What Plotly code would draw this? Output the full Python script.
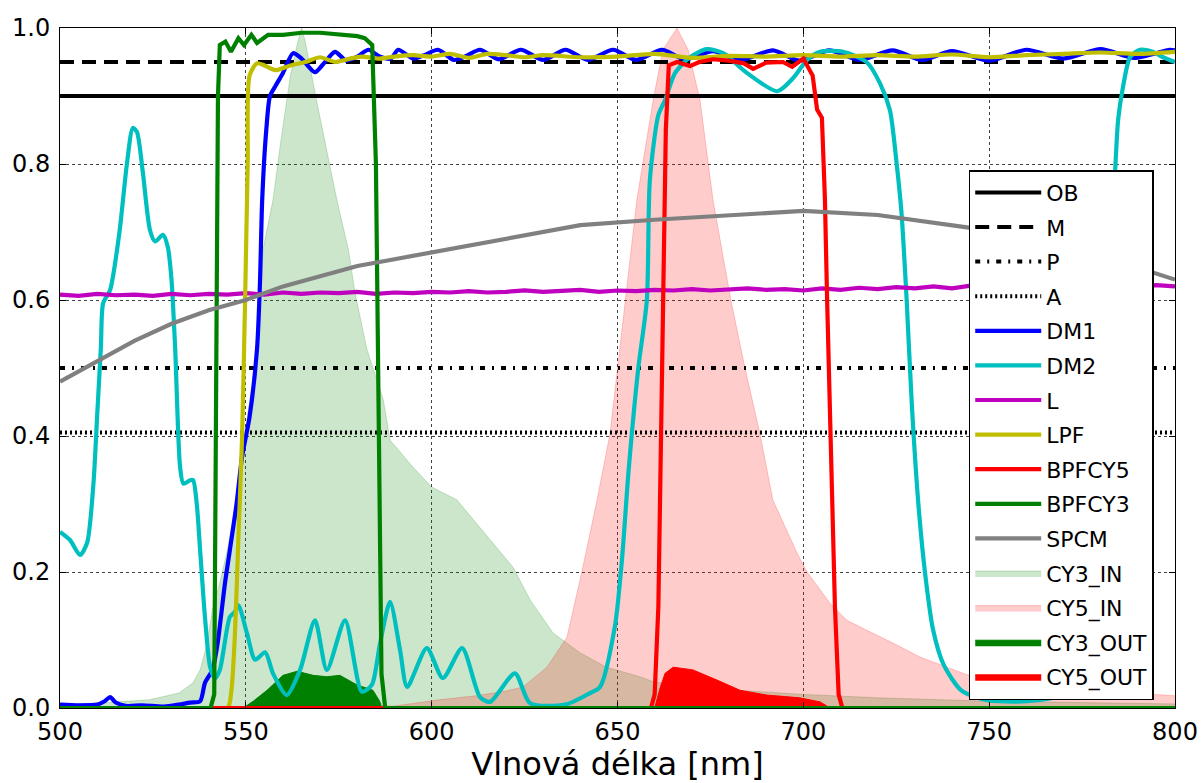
import plotly.graph_objects as go

# ---------------- data ----------------
# constant reference levels
OB_LEVEL = 0.90
M_LEVEL = 0.95
P_LEVEL = 0.50
A_LEVEL = 0.405
X_RANGE = [500, 800]

# dichroic mirror 1
dm1_nm = [500, 505, 510, 512, 513.5, 515, 518, 522, 528, 532, 535, 537.7, 539, 541, 542.4, 544.4,
          545.7, 547.5, 549, 551, 553, 553.8, 554.4, 555.5, 556.5, 558, 560, 562.7, 565, 568.6,
          571, 574, 577, 580, 583, 586, 589, 591, 595, 598, 601.7, 606, 609, 613, 618, 624, 630,
          636, 642, 648.8, 655, 662, 668, 675.7, 683, 691.8, 699, 707, 715, 724, 732, 740, 750,
          760, 770, 780, 789, 798.6, 800]
dm1_val = [0.005, 0.004, 0.005, 0.010, 0.016, 0.008, 0.003, 0.004, 0.002, 0.005, 0.008, 0.010, 0.037,
           0.056, 0.095, 0.184, 0.232, 0.300, 0.370, 0.428, 0.527, 0.625, 0.747, 0.850, 0.900, 0.915,
           0.934, 0.963, 0.955, 0.935, 0.948, 0.965, 0.952, 0.958, 0.968, 0.958, 0.955, 0.968, 0.955,
           0.960, 0.968, 0.953, 0.958, 0.968, 0.954, 0.968, 0.953, 0.968, 0.953, 0.968, 0.953, 0.968,
           0.954, 0.966, 0.953, 0.967, 0.952, 0.967, 0.953, 0.967, 0.953, 0.966, 0.952, 0.968, 0.955,
           0.969, 0.956, 0.968, 0.967]

# dichroic mirror 2
dm2_nm = [500, 502.7, 505.4, 507.3, 509, 510, 511, 511.6, 513.5, 516, 518, 519.6, 520.7, 522.3, 524.2,
          525.6, 527.7, 529, 530, 531, 532.3, 533.2, 535, 535.8, 536.8, 537.7, 539, 540.4, 541.7, 543,
          545.7, 547, 548, 550.3, 552.5, 555.2, 557.3, 561, 564.6, 568.6, 571.8, 576.7, 581.2, 583.9,
          586.1, 588.8, 591.5, 593.4, 598.7, 603, 608.2, 613, 615.7, 622.4, 626.5, 636, 642.6, 645.3,
          649.3, 651.2, 653, 655.6, 657.9, 658.7, 661, 662.8, 665.5, 669.5, 674, 678.4, 684.8, 693,
          697.2, 701, 704.5, 710.7, 717, 720.6, 723.3, 725, 726.4, 727.8, 729.2, 731.1, 733, 734.9,
          737.8, 742.5, 749, 760, 770, 775, 778, 780, 782, 783.9, 784.7, 786, 787.9, 790.6, 794,
          796.8, 800]
dm2_val = [0.259, 0.247, 0.225, 0.243, 0.330, 0.430, 0.530, 0.595, 0.615, 0.700, 0.800, 0.853, 0.847,
           0.787, 0.703, 0.686, 0.696, 0.678, 0.630, 0.527, 0.355, 0.330, 0.335, 0.335, 0.300, 0.232,
           0.134, 0.060, 0.044, 0.056, 0.134, 0.141, 0.151, 0.110, 0.071, 0.082, 0.051, 0.019, 0.056,
           0.129, 0.056, 0.129, 0.024, 0.034, 0.095, 0.156, 0.085, 0.031, 0.088, 0.044, 0.088, 0.016,
           0.009, 0.051, 0.007, 0.005, 0.022, 0.031, 0.120, 0.218, 0.350, 0.500, 0.600, 0.776, 0.872,
           0.894, 0.934, 0.957, 0.969, 0.963, 0.934, 0.907, 0.926, 0.953, 0.965, 0.965, 0.950, 0.919,
           0.879, 0.806, 0.729, 0.600, 0.445, 0.290, 0.187, 0.115, 0.063, 0.026, 0.012, 0.010, 0.020,
           0.050, 0.150, 0.350, 0.600, 0.791, 0.865, 0.913, 0.957, 0.968, 0.965, 0.957, 0.950]

# laser line
l_nm = [500, 505, 510, 515, 520, 525, 530, 535, 540, 545, 550, 555, 560, 565, 570, 575, 580, 585,
        590, 595, 600, 605, 610, 615, 620, 625, 630, 635, 640, 645, 650, 655, 660, 665, 670, 675,
        680, 685, 690, 695, 700, 705, 710, 715, 720, 725, 730, 735, 740, 745, 750, 755, 760, 765,
        770, 775, 780, 785, 790, 795, 800]
l_val = [0.608, 0.606, 0.609, 0.607, 0.608, 0.606, 0.609, 0.607, 0.609, 0.608, 0.610, 0.608, 0.611,
         0.609, 0.611, 0.610, 0.612, 0.609, 0.611, 0.610, 0.612, 0.611, 0.613, 0.611, 0.612, 0.614,
         0.612, 0.613, 0.615, 0.612, 0.614, 0.613, 0.615, 0.614, 0.616, 0.614, 0.615, 0.617, 0.615,
         0.616, 0.614, 0.617, 0.615, 0.618, 0.616, 0.619, 0.617, 0.620, 0.617, 0.621, 0.618, 0.619,
         0.617, 0.619, 0.620, 0.621, 0.619, 0.621, 0.620, 0.622, 0.620]

# long-pass filter
lpf_nm = [500, 545, 546, 547, 548, 549, 549.8, 550.5, 551, 553, 555, 558, 562, 566, 570, 574, 578,
          581, 586, 590, 595, 600, 605, 610, 615, 620, 625, 630, 640, 650, 660, 670, 680, 690, 700,
          710, 720, 730, 740, 750, 760, 770, 780, 790, 800]
lpf_val = [0.0, 0.0, 0.02, 0.10, 0.25, 0.40, 0.60, 0.80, 0.93, 0.948, 0.945, 0.938, 0.945, 0.950,
           0.957, 0.950, 0.955, 0.958, 0.955, 0.958, 0.960, 0.958, 0.962, 0.956, 0.962, 0.960, 0.957,
           0.960, 0.957, 0.958, 0.962, 0.956, 0.959, 0.958, 0.960, 0.958, 0.960, 0.958, 0.961, 0.957,
           0.960, 0.962, 0.964, 0.962, 0.965]

# band-pass filter for Cy5
bp5_nm = [500, 659, 660, 661, 662, 663, 663.8, 666, 669.5, 672, 675.7, 680, 684, 686.5, 690, 694.5,
          697, 700, 702.5, 703.7, 705, 705.8, 706.4, 707.5, 708.5, 709.5, 710.5, 800]
bp5_val = [0.0, 0.0, 0.02, 0.15, 0.50, 0.85, 0.945, 0.950, 0.944, 0.950, 0.954, 0.952, 0.948, 0.940,
           0.949, 0.950, 0.943, 0.955, 0.930, 0.880, 0.868, 0.750, 0.600, 0.350, 0.150, 0.020, 0.0, 0.0]

# band-pass filter for Cy3
bp3_nm = [500, 540.5, 541.5, 542, 542.5, 543, 544.5, 546, 548, 549.5, 551.5, 553, 556, 560, 565,
          570, 575, 580, 582, 584, 585, 585.7, 586.5, 587.5, 800]
bp3_val = [0.0, 0.0, 0.02, 0.50, 0.90, 0.975, 0.980, 0.965, 0.985, 0.975, 0.990, 0.978, 0.990, 0.990,
           0.993, 0.993, 0.990, 0.988, 0.985, 0.975, 0.800, 0.400, 0.050, 0.0, 0.0]

# detector efficiency
spcm_nm = [500, 510, 520, 530, 540, 550, 560, 570, 580, 590, 600, 620, 640, 660, 680, 700, 720, 745,
           760, 780, 800]
spcm_val = [0.480, 0.510, 0.540, 0.565, 0.585, 0.600, 0.620, 0.635, 0.650, 0.660, 0.670, 0.690, 0.710,
            0.718, 0.725, 0.731, 0.725, 0.706, 0.690, 0.665, 0.630]

# Cy3 excitation spectrum entering the setup
cy3_in_nm = [500, 510, 524, 532, 535.8, 537.7, 539.6, 541, 543, 545, 547, 549, 551, 553, 554.6,
             557.3, 559.7, 562, 564, 565, 566, 569, 574.5, 577.6, 579.4, 582.6, 587, 588.8, 595,
             600, 606.8, 613, 621.9, 626.5, 632.7, 640, 647, 656, 660, 670, 680, 700, 720, 750, 800]
cy3_in_val = [0.006, 0.007, 0.012, 0.022, 0.037, 0.056, 0.095, 0.144, 0.184, 0.232, 0.291, 0.379,
              0.45, 0.527, 0.674, 0.747, 0.845, 0.930, 0.980, 1.0, 0.980, 0.894, 0.747, 0.674, 0.610,
              0.527, 0.453, 0.394, 0.354, 0.325, 0.306, 0.266, 0.207, 0.159, 0.110, 0.081, 0.060,
              0.046, 0.038, 0.032, 0.027, 0.020, 0.015, 0.010, 0.006]

# Cy5 excitation spectrum entering the setup
cy5_in_nm = [500, 590, 602, 612, 620, 624.6, 631, 636.4, 640.4, 644.5, 648, 650, 652, 655.2, 659.6,
             662.2, 666, 669, 672.2, 675.7, 680.5, 684.3, 688.3, 691.8, 698.3, 701, 707.2, 711.7,
             718.7, 724, 731.4, 738.6, 744, 760, 780, 800]
cy5_in_val = [0.0, 0.003, 0.012, 0.018, 0.025, 0.031, 0.060, 0.104, 0.200, 0.306, 0.404, 0.500, 0.600,
              0.747, 0.894, 0.968, 1.0, 0.968, 0.894, 0.747, 0.600, 0.500, 0.404, 0.306, 0.228, 0.200,
              0.154, 0.129, 0.110, 0.096, 0.075, 0.060, 0.049, 0.035, 0.025, 0.018]

# detected Cy3 signal
cy3_out_nm = [500, 549.3, 552, 555.7, 560, 563.8, 568.1, 571.8, 575.3, 579.9, 584.2, 586, 586.6, 800]
cy3_out_val = [0.0, 0.0, 0.010, 0.026, 0.048, 0.054, 0.048, 0.046, 0.048, 0.034, 0.026, 0.010, 0.0, 0.0]

# detected Cy5 signal
cy5_out_nm = [500, 660, 661.5, 662.8, 665, 670.3, 676.8, 683, 690.2, 699, 704.5, 707.2, 800]
cy5_out_val = [0.0, 0.0, 0.030, 0.051, 0.060, 0.056, 0.041, 0.026, 0.019, 0.015, 0.009, 0.0, 0.0]

# ---------------- figure ----------------
FONT = "DejaVu Sans"
LW = 4.2

fig = go.Figure()

fills = [
    ("CY3_IN", cy3_in_nm, cy3_in_val, "rgba(0,128,0,0.2)"),
    ("CY5_IN", cy5_in_nm, cy5_in_val, "rgba(255,0,0,0.2)"),
    ("CY3_OUT", cy3_out_nm, cy3_out_val, "rgb(0,128,0)"),
    ("CY5_OUT", cy5_out_nm, cy5_out_val, "rgb(255,0,0)"),
]
for i, (name, xs, ys, col) in enumerate(fills):
    fig.add_trace(go.Scatter(
        x=xs, y=ys, name=name, mode="lines", fill="tozeroy", fillcolor=col,
        line=dict(color=col, width=1), legendrank=100 + i, legendgroup=name,
    ))

levels = [
    ("OB", OB_LEVEL, "solid"),
    ("M", M_LEVEL, "14px,8px"),
    ("P", P_LEVEL, "5px,7px,2px,7px"),
    ("A", A_LEVEL, "2px,3px"),
]
for i, (name, lvl, dash) in enumerate(levels):
    fig.add_trace(go.Scatter(
        x=X_RANGE, y=[lvl, lvl], name=name, mode="lines",
        line=dict(color="black", width=4, dash=dash), legendrank=i, legendgroup=name,
    ))

curves = [
    ("DM1", dm1_nm, dm1_val, "#0000ff", "spline"),
    ("DM2", dm2_nm, dm2_val, "#00bfbf", "spline"),
    ("L", l_nm, l_val, "#bf00bf", "linear"),
    ("LPF", lpf_nm, lpf_val, "#bfbf00", "spline"),
    ("BPFCY5", bp5_nm, bp5_val, "#ff0000", "linear"),
    ("BPFCY3", bp3_nm, bp3_val, "#008000", "linear"),
    ("SPCM", spcm_nm, spcm_val, "#808080", "linear"),
]
for i, (name, xs, ys, col, shape) in enumerate(curves):
    fig.add_trace(go.Scatter(
        x=xs, y=ys, name=name, mode="lines",
        line=dict(color=col, width=LW, shape=shape, smoothing=0.7 if shape == "spline" else None),
        legendrank=10 + i, legendgroup=name,
    ))

axis_common = dict(
    showline=True, linecolor="black", linewidth=1, mirror="ticks",
    ticks="inside", ticklen=6, tickcolor="black", automargin=False,
    showgrid=True, gridcolor="#444444", gridwidth=1, griddash="dot",
    zeroline=False, tickfont=dict(family=FONT, size=24, color="black"),
)

fig.update_xaxes(range=X_RANGE, dtick=50, tick0=500, ticklabelstandoff=2,
                 title=dict(text="Vlnová délka [nm]", font=dict(family=FONT, size=32, color="black"),
                            standoff=19),
                 **axis_common)
fig.update_yaxes(range=[0, 1.0], dtick=0.2, tickformat=".1f", ticklabelstandoff=4, **axis_common)

fig.update_layout(
    width=1201, height=783,
    margin=dict(l=60, r=26, t=28, b=75, autoexpand=False),
    paper_bgcolor="white", plot_bgcolor="white",
    font=dict(family=FONT, color="black"),
    legend=dict(
        x=0.815, y=0.791, xanchor="left", yanchor="top",
        bgcolor="white", bordercolor="black", borderwidth=1.5,
        font=dict(family=FONT, size=22, color="black"),
        tracegroupgap=3, itemwidth=66,
    ),
)

fig.write_html("out.html")
